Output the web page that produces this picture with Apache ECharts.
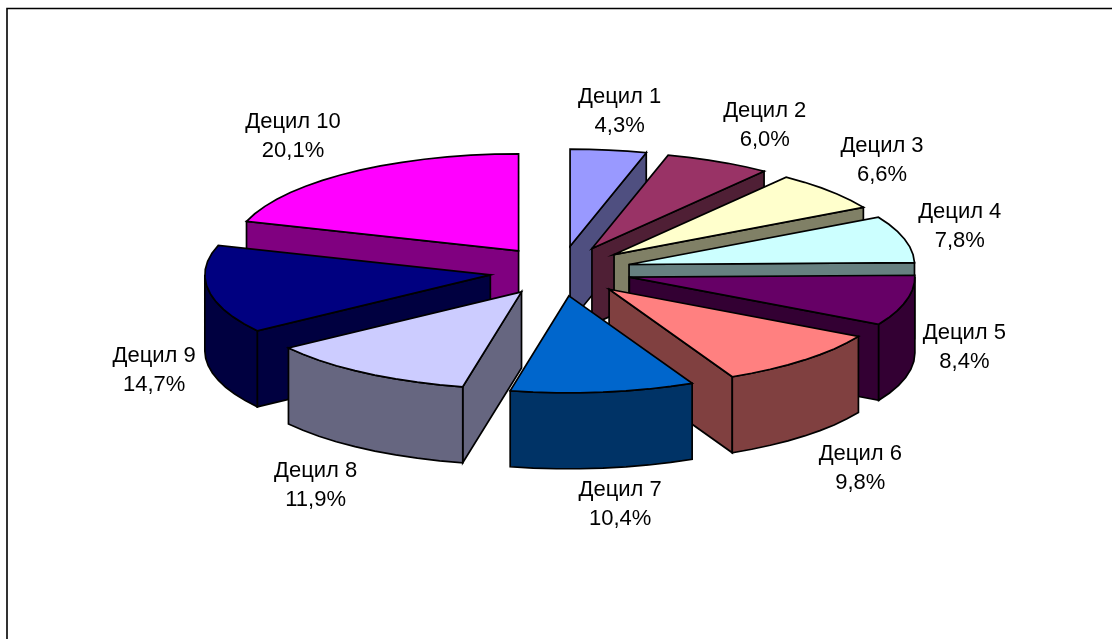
<!DOCTYPE html>
<html><head><meta charset="utf-8">
<style>html,body{margin:0;padding:0;background:#fff}#c{width:1112px;height:639px}</style>
<script src="https://cdn.jsdelivr.net/npm/echarts@6/dist/echarts.min.js"></script>
</head><body><div id="c"></div>
<script>
const categories = ['Децил 1','Децил 2','Децил 3','Децил 4','Децил 5','Децил 6','Децил 7','Децил 8','Децил 9','Децил 10'];
const shares = [4.3,6.0,6.6,7.8,8.4,9.8,10.4,11.9,14.7,20.1];
const topColors = ['#9999FF','#993366','#FFFFCC','#CCFFFF','#660066','#FF8080','#0066CC','#CCCCFF','#000080','#FF00FF'];
const wallColors = ['#4F4F80','#4F1F35','#808066','#668080','#330033','#804040','#003366','#666680','#000040','#800080'];
const drawOrder = [0,9,1,2,8,3,4,7,5,6];
const labelShift = [[12,-42.5],[48,-40],[55,-33],[58,-13.5],[61,47.5],[58,111.5],[18,116.5],[-50,116],[-56,81.5],[-58,-39]];

const pie = {cx:560.5, cy:271, rx:285.5, ry:97, ex:71, ey:25, depth:76, step:5, labelCx:560, labelRx:354, labelRy:118, labelCy:271};
const total = shares.reduce((a,b)=>a+b,0);
let run = 0;
const spans = shares.map(v=>{const s=run; run+=v; return [s/total*360,run/total*360];});
const rad = d=>d*Math.PI/180;

function arcPts(ox,oy,a,b,dy){
  const pts=[], n=Math.max(1,Math.ceil((b-a)/pie.step));
  for(let i=0;i<=n;i++){const t=rad(a+(b-a)*i/n);
    pts.push([ox+pie.rx*Math.sin(t),oy-pie.ry*Math.cos(t)+dy]);}
  return pts;
}
function poly(points,fill){
  return {type:'polygon',shape:{points},style:{fill,stroke:'#000',lineWidth:1.7,lineJoin:'miter'}};
}
function renderItem(params,api){
  const i=api.value(0), a=spans[i][0], b=spans[i][1], m=rad((a+b)/2);
  const ox=pie.cx+pie.ex*Math.sin(m), oy=pie.cy-pie.ey*Math.cos(m);
  const d=pie.depth, wall=wallColors[i], kids=[];
  const s=arcPts(ox,oy,a,a,0)[0], e=arcPts(ox,oy,b,b,0)[0];
  if(a>180) kids.push(poly([[ox,oy],s,[s[0],s[1]+d],[ox,oy+d]],wall));
  if(b<180) kids.push(poly([[ox,oy],e,[e[0],e[1]+d],[ox,oy+d]],wall));
  const fa=Math.max(a,90), fb=Math.min(b,270);
  if(fb>fa){
    const t=arcPts(ox,oy,fa,fb,0), u=arcPts(ox,oy,fa,fb,d).reverse();
    kids.push(poly(t.concat(u),wall));
  }
  kids.push(poly([[ox,oy]].concat(arcPts(ox,oy,a,b,0)),topColors[i]));
  const lx=pie.labelCx+pie.labelRx*Math.sin(m)+labelShift[i][0];
  const ly=pie.labelCy-pie.labelRy*Math.cos(m)+labelShift[i][1];
  kids.push({type:'text',style:{
    x:lx,y:ly,text:categories[i]+'\n'+shares[i].toFixed(1).replace('.',',')+'%',
    fill:'#000',font:'22px "Liberation Sans"',lineHeight:29,align:'center',verticalAlign:'middle'}});
  return {type:'group',children:kids};
}
const chart=echarts.init(document.getElementById('c'),null,{renderer:'canvas'});
chart.setOption({
  animation:false,
  backgroundColor:'#fff',
  graphic:[{type:'rect',shape:{x:7,y:8.5,width:1200,height:700},style:{fill:'none',stroke:'#000',lineWidth:1.6},silent:true}],
  series:[{type:'custom',coordinateSystem:'none',renderItem,
    data:drawOrder.map(i=>[i]),silent:true}]
});
</script></body></html>
